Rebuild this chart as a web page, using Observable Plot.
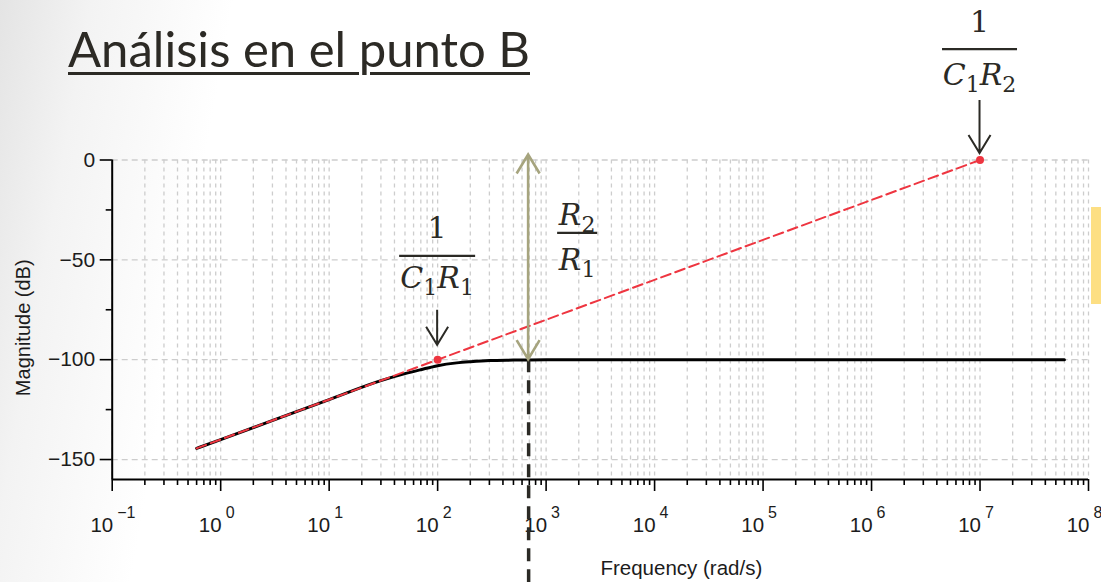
<!DOCTYPE html>
<html lang="es">
<head>
<meta charset="utf-8">
<script src="https://cdn.jsdelivr.net/npm/d3@7"></script>
<script src="https://cdn.jsdelivr.net/npm/@observablehq/plot@0.6"></script>
<style>
  html, body { margin: 0; padding: 0; }
  body {
    width: 1101px; height: 582px; overflow: hidden;
    background: linear-gradient(100deg, #e4e4e4 0px, #f3f3f3 90px, #ffffff 230px);
  }
  #slide { position: relative; width: 1101px; height: 582px; }
  #chart { position: absolute; left: 0; top: 0; }
  #title {
    position: absolute; left: 68px; top: 25px; margin: 0;
    font-family: Lato, "Open Sans", sans-serif; font-size: 48px; line-height: 48px;
    font-weight: normal; color: #2c2a25; white-space: nowrap;
    text-decoration: underline; text-decoration-thickness: 3px; text-underline-offset: 5px;
    transform-origin: 0 0;
  }
  #tab { position: absolute; left: 1091px; top: 207px; width: 10px; height: 97px; background: #fddf83; }
</style>
</head>
<body>
<div id="slide">
  <div id="chart"></div>
  <h1 id="title">Análisis en el punto B</h1>
  <div id="tab"></div>
</div>
<script>
// Bode magnitude plot of the stage at point B

// Axis ticks
const decades = [-1, 0, 1, 2, 3, 4, 5, 6, 7, 8];
const magTicks = [0, -50, -100, -150];
const magMinorTicks = [-25, -75, -125];
const magTickLabels = ["0", "−50", "−100", "−150"];

// Magnitude response (rad/s, dB)
const freq = [0.6, 1, 10, 30, 50, 70, 100, 150, 200, 300, 500, 1000, 6e7];
const magnitude = [-144.4, -140, -120, -110.5, -107, -105, -103, -101.6, -101, -100.4, -100.2, -100, -100];

// +20 dB/dec asymptote through both corner frequencies
const asymptoteFreq = [0.6, 100, 1e7];
const asymptoteMag = [-144.4, -100, 0];

// Corner points 1/(C1R1) and 1/(C1R2)
const cornerFreq = [100, 1e7];
const cornerMag = [-100, 0];

// Frequency where the gain R2/R1 is read, and the span of that gain
const gainFreq = 690;
const gainTop = 2.5;
const gainBottom = -100;
const dashedBottom = -212;

// Pointer arrows above the corner points (dB)
const pointerFreq = [100, 1e7];
const pointerFrom = [-75.25, 29.75];
const pointerTo = [-92.75, 3.25];

// Fraction labels: anchor frequency, fraction bar level (dB), numerator, denominator
const fracFreq = [100, gainFreq, 1e7];
const fracMag = [-48.25, -36.75, 55.25];
const fracNum = ["1", "R_2", "1"];
const fracDen = ["C_1R_1", "R_1", "C_1R_2"];

// Layout of each fraction in pixels
const fracLayout = [
  {dx: 0, half: 38, num: -18, den: 32},
  {dx: 49, half: 20, num: -8, den: 37},
  {dx: 0, half: 37.5, num: -17, den: 36}
];

const decadeTicks = decades.map(d => 10 ** d);
const minorTicks = decades.slice(0, -1).flatMap(d => [2, 3, 4, 5, 6, 7, 8, 9].map(k => k * 10 ** d));

const response = freq.map((f, i) => ({f, m: magnitude[i]}));
const asymptote = asymptoteFreq.map((f, i) => ({f, m: asymptoteMag[i]}));
const corners = cornerFreq.map((f, i) => ({f, m: cornerMag[i]}));

const ink = "#000000";
const labelInk = "#1c1c1c";
const mathInk = "#2b2a25";
const gridInk = "#cdcdcd";
const red = "#ee3540";
const olive = "#a6a47e";
const sans = "'Liberation Sans', Arial, sans-serif";

const plot = Plot.plot({
  width: 1101,
  height: 582,
  marginLeft: 111.7,
  marginRight: 13,
  marginTop: 159.5,
  marginBottom: 103,
  style: {background: "transparent", overflow: "visible", fontFamily: sans},
  x: {type: "log", domain: [0.1, 1e8], axis: null},
  y: {domain: [-160, 0], axis: null},
  marks: [
    // grid
    Plot.ruleX([...minorTicks, ...decadeTicks], {stroke: gridInk, strokeWidth: 1.3, strokeDasharray: "4,4"}),
    Plot.ruleY(magTicks, {stroke: gridInk, strokeWidth: 1.3, strokeDasharray: "6,4"}),
    // axis lines and ticks
    Plot.ruleX([0.1], {stroke: ink, strokeWidth: 2}),
    Plot.ruleY([-160], {stroke: ink, strokeWidth: 2}),
    Plot.axisX(decadeTicks, {anchor: "bottom", tickSize: 12, stroke: ink, strokeWidth: 1.6, fill: "none", label: null}),
    Plot.axisX(minorTicks, {anchor: "bottom", tickSize: 6, stroke: ink, strokeWidth: 1.6, fill: "none", label: null}),
    Plot.axisY(magTicks, {anchor: "left", tickSize: 12, stroke: ink, strokeWidth: 1.6, fill: "none", label: null}),
    Plot.axisY(magMinorTicks, {anchor: "left", tickSize: 6, stroke: ink, strokeWidth: 1.6, fill: "none", label: null}),
    // tick labels: 10 with a raised exponent
    Plot.text(decades, {x: d => 10 ** d, y: -160, text: () => "10", textAnchor: "end", dx: 1, dy: 46, fontSize: 20.5, fill: labelInk}),
    Plot.text(decades, {x: d => 10 ** d, y: -160, text: d => (d < 0 ? "−" + (-d) : String(d)), textAnchor: "start", dx: 5, dy: 33, fontSize: 16, fill: labelInk}),
    Plot.text(magTicks, {x: 0.1, y: d => d, text: (d, i) => magTickLabels[i], textAnchor: "end", dx: -17, fontSize: 21, fill: labelInk}),
    // axis titles
    Plot.text(["Frequency (rad/s)"], {frameAnchor: "bottom", textAnchor: "middle", lineAnchor: "middle", dx: 81, dy: 89, fontSize: 20.5, fill: labelInk}),
    Plot.text(["Magnitude (dB)"], {frameAnchor: "left", textAnchor: "middle", lineAnchor: "middle", rotate: -90, dx: -89, dy: 8, fontSize: 20, fill: labelInk}),
    // response, asymptote and corner points
    Plot.line(response, {x: "f", y: "m", stroke: ink, strokeWidth: 3, curve: "monotone-x"}),
    Plot.line(asymptote, {x: "f", y: "m", stroke: red, strokeWidth: 2, strokeDasharray: "10,5"}),
    Plot.dot(corners, {x: "f", y: "m", r: 4, fill: red}),
    // marker line where the pass-band gain is read
    Plot.ruleX([gainFreq], {y1: gainBottom, y2: dashedBottom, stroke: mathInk, strokeWidth: 3.5, strokeDasharray: "13,8"})
  ]
});

document.getElementById("chart").append(plot);

// Annotation layer drawn with the plot's own scales
const sx = plot.scale("x");
const sy = plot.scale("y");
const svg = d3.select(plot.tagName.toLowerCase() === "svg" ? plot : plot.querySelector("svg"));
const ann = svg.append("g").attr("aria-label", "annotations").attr("fill", "none");

function head(x, tipY, dir, len, half) {
  return `M${x - half},${tipY - dir * len}L${x},${tipY}L${x + half},${tipY - dir * len}`;
}

// pointers to the corner frequencies
pointerFreq.forEach((f, i) => {
  const x = sx.apply(f), y1 = sy.apply(pointerFrom[i]), y2 = sy.apply(pointerTo[i]);
  ann.append("path")
    .attr("d", `M${x},${y1}V${y2}` + head(x, y2, 1, 18, 11))
    .attr("stroke", mathInk).attr("stroke-width", 2).attr("stroke-linejoin", "miter");
});

// double arrow spanning the gain R2/R1
{
  const x = sx.apply(gainFreq), yT = sy.apply(gainTop), yB = sy.apply(gainBottom);
  ann.append("path")
    .attr("d", `M${x},${yT}V${yB}` + head(x, yT, -1, 19, 11.5) + head(x, yB, 1, 19, 11.5))
    .attr("stroke", olive).attr("stroke-width", 2.6);
}

// math labels: letters in italic, "_d" as a subscript digit
function mathText(g, s, x, y) {
  const t = g.append("text")
    .attr("x", x).attr("y", y).attr("text-anchor", "middle")
    .attr("font-family", "'DejaVu Serif', 'Liberation Serif', serif")
    .attr("font-size", 30).attr("fill", mathInk).attr("stroke", "none");
  let shift = 0;
  for (const [, base, sub] of s.matchAll(/([A-Za-z0-9])(?:_(\d))?/g)) {
    t.append("tspan")
      .attr("dy", -shift)
      .attr("font-style", /[A-Za-z]/.test(base) ? "italic" : "normal")
      .text(base);
    shift = 0;
    if (sub) {
      t.append("tspan").attr("dy", 7).attr("font-size", 22).attr("font-style", "normal").text(sub);
      shift = 7;
    }
  }
}

fracFreq.forEach((f, i) => {
  const L = fracLayout[i];
  const cx = sx.apply(f) + L.dx, cy = sy.apply(fracMag[i]);
  ann.append("line")
    .attr("x1", cx - L.half).attr("x2", cx + L.half).attr("y1", cy).attr("y2", cy)
    .attr("stroke", mathInk).attr("stroke-width", 2.4);
  mathText(ann, fracNum[i], cx, cy + L.num);
  mathText(ann, fracDen[i], cx, cy + L.den);
});

// fit the heading to its width on the slide
const title = document.getElementById("title");
function fitTitle() {
  title.style.transform = "none";
  const w = title.getBoundingClientRect().width;
  if (w > 0) title.style.transform = `scaleX(${462 / w})`;
}
fitTitle();
if (document.fonts) document.fonts.ready.then(fitTitle);
</script>
</body>
</html>
